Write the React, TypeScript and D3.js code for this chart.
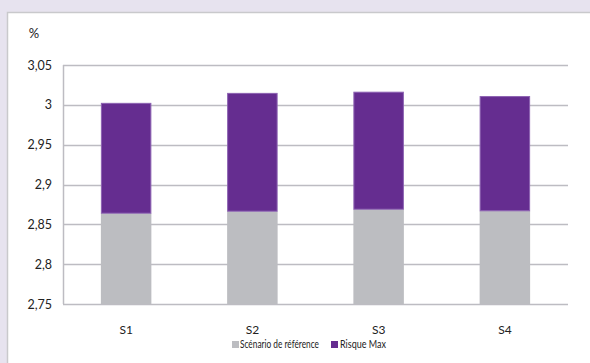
import React from "react";
import * as d3 from "d3";

const categories = ["S1", "S2", "S3", "S4"];
const reference = [2.864, 2.8665, 2.869, 2.867];
const risqueMaxTotal = [3.0025, 3.015, 3.0165, 3.011];
const yTicks = [2.75, 2.8, 2.85, 2.9, 2.95, 3, 3.05];
const seriesNames = ["Scénario de référence", "Risque Max"];
const colors = ["#bcbdc1", "#652d90"];

const W = 590;
const H = 363;
const FONT = "Lato, 'Open Sans', sans-serif";

export default function App() {
  const left = 63, right = 568, top = 65, bottom = 304;
  const x = d3.scaleBand<string>().domain(categories).range([left, right]).paddingInner(0.6).paddingOuter(0.3);
  const y = d3.scaleLinear().domain([2.75, 3.05]).range([bottom, top]);
  const fmt = (v: number) => String(v).replace(".", ",");

  return (
    <svg width={W} height={H} style={{ position: "absolute", left: 0, top: 0, display: "block" }}>
      <rect x={0} y={0} width={W} height={H} fill="#e7e3ef" />
      <rect x={7.5} y={12.5} width={W} height={H} fill="#ffffff" stroke="#c9c9cc" strokeWidth={1.5} />
      <text x={34} y={38} fontFamily={FONT} fontSize={13} textAnchor="middle" fill="#222">%</text>
      {yTicks.map((t) => (
        <g key={t}>
          <line x1={left} x2={right} y1={Math.round(y(t)) + 0.5} y2={Math.round(y(t)) + 0.5} stroke="#bdbcc2" strokeWidth={1.5} />
          <text x={52} y={y(t) + 4.5} fontFamily={FONT} fontSize={12.5} textAnchor="end" fill="#222">{fmt(t)}</text>
        </g>
      ))}
      <line x1={left + 0.5} x2={left + 0.5} y1={top} y2={bottom} stroke="#bdbcc2" strokeWidth={1.5} />
      {categories.map((c, i) => (
        <g key={c}>
          <rect x={x(c)} y={y(reference[i])} width={x.bandwidth()} height={y(2.75) - y(reference[i])} fill={colors[0]} />
          <rect x={x(c)! + 0.5} y={y(risqueMaxTotal[i]) + 0.5} width={x.bandwidth() - 1} height={y(reference[i]) - y(risqueMaxTotal[i]) - 0.5} fill={colors[1]} stroke="#8c62b2" strokeWidth={1} />
          <text x={x(c)! + x.bandwidth() / 2} y={334} fontFamily={FONT} fontSize={12} textAnchor="middle" fill="#222">{c}</text>
        </g>
      ))}
      <g>
        <rect x={232} y={341} width={7} height={7} fill={colors[0]} />
        <text x={240} y={348} fontFamily={FONT} fontSize={10.5} fill="#222" textLength={79} lengthAdjust="spacingAndGlyphs">{seriesNames[0]}</text>
        <rect x={331} y={341} width={7} height={7} fill={colors[1]} />
        <text x={340} y={348} fontFamily={FONT} fontSize={10.5} fill="#222" textLength={46} lengthAdjust="spacingAndGlyphs">{seriesNames[1]}</text>
      </g>
    </svg>
  );
}
